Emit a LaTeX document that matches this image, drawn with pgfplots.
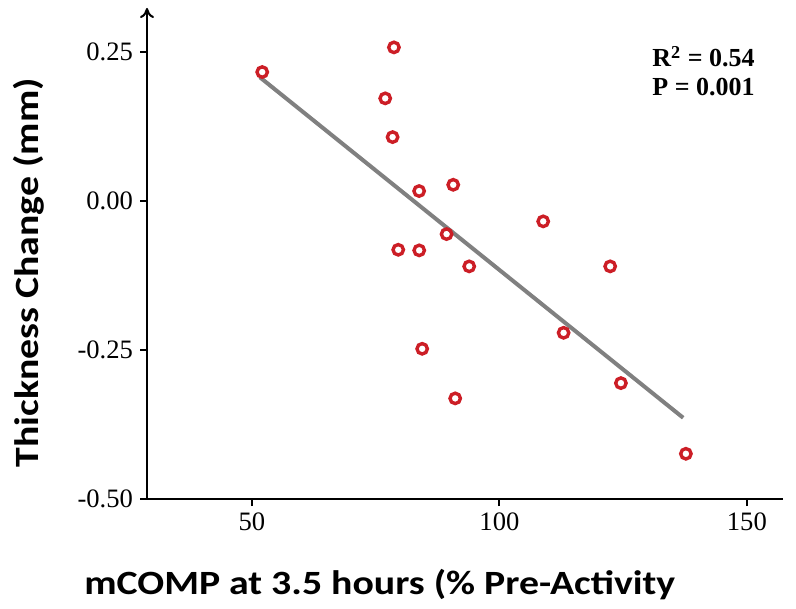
\documentclass[border=0pt]{standalone}
\usepackage{fontspec}
\setmainfont{Liberation Serif}
\newfontfamily\calibri{Carlito}
\usepackage{pgfplots}
\pgfplotsset{compat=1.18}
\usetikzlibrary{arrows.meta,calc}
\definecolor{ptred}{RGB}{204,30,38}
\definecolor{fitgray}{RGB}{128,128,128}

\begin{document}
\begin{tikzpicture}
  \begin{axis}[
    scale only axis,
    width=318pt, height=245.6pt,
    xmin=28.8, xmax=157.3,
    ymin=-0.5, ymax=0.323,
    axis lines=left,
    x axis line style={-, line width=1pt},
    y axis line style={-{To[length=5pt,width=7pt]}, line width=1pt},
    tick align=outside,
    major tick length=3.5pt,
    every tick/.style={black, line width=1pt},
    xtick={50,100,150},
    ytick={-0.5,-0.25,0,0.25},
    yticklabel style={/pgf/number format/.cd, fixed, fixed zerofill, precision=2},
    /pgf/number format/assume math mode=true,
    tick label style={font=\fontsize{13.3}{15}\selectfont},
    xlabel={\scalebox{1.17}[1]{mCOMP at 3.5 hours (\% Pre-Activity}},
    ylabel={\scalebox{1.17}[1]{Thickness Change (mm)}},
    label style={font=\calibri\bfseries\fontsize{17}{20}\selectfont},
    xlabel style={at={(axis description cs:0.366,-0.195)}, anchor=base},
    ylabel style={at={(axis description cs:-0.171,0.461)}, anchor=base, rotate=0},
    clip=false,
  ]
    % regression line
    \addplot[fitgray, line width=2pt] coordinates {(51.6,0.207) (137.13,-0.3636)};

    % data points
    \addplot[only marks, mark=o, mark size=2.6pt,
             mark options={ptred, line width=1.7pt}] coordinates {
      (52.08,0.2157) (78.69,0.257) (76.93,0.1716) (78.42,0.1067)
      (83.78,0.0163) (90.67,0.0268) (79.56,-0.0821) (83.80,-0.0831)
      (89.33,-0.0558) (93.90,-0.1099) (108.85,-0.0345) (122.38,-0.1099)
      (84.40,-0.248) (112.97,-0.2212) (91.07,-0.3311) (124.55,-0.3055)
      (137.68,-0.4239)
    };

    \node[anchor=west, font=\bfseries\fontsize{13}{15}\selectfont, inner sep=0pt]
      at (axis description cs:0.794,0.901) {R\textsuperscript{2} = 0.54};
    \node[anchor=west, font=\bfseries\fontsize{13}{15}\selectfont, inner sep=0pt]
      at (axis description cs:0.794,0.840) {P = 0.001};

    \coordinate (ll) at (rel axis cs:0,0);
  \end{axis}
  \pgfresetboundingbox
  \path ($(ll)+(-73.5pt,-54.5pt)$) rectangle ($(ll)+(324.5pt,249.6pt)$);
\end{tikzpicture}
\end{document}
